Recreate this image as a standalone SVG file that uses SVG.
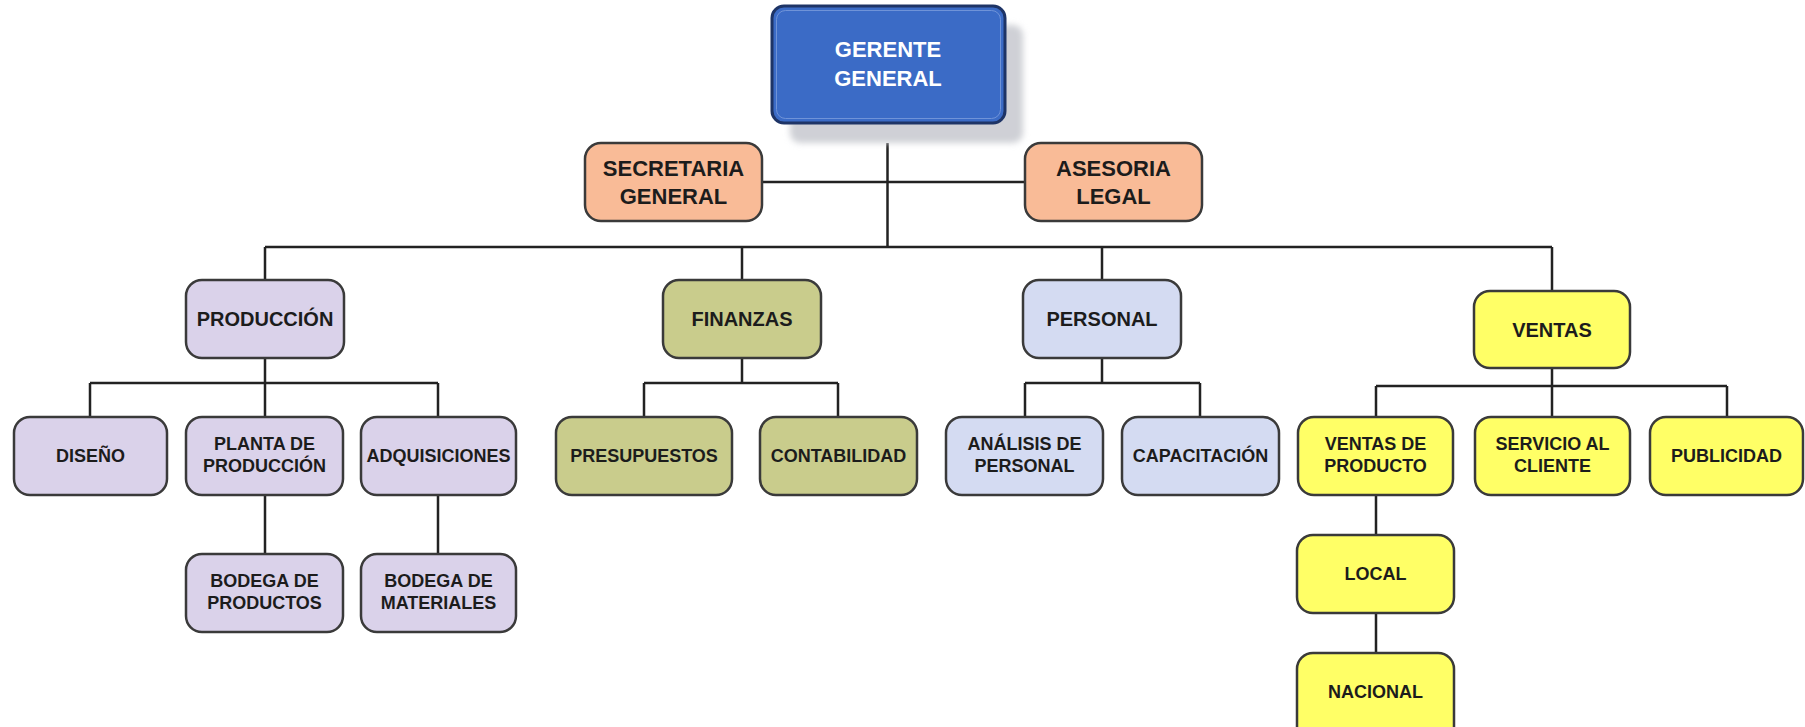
<svg xmlns="http://www.w3.org/2000/svg" width="1805" height="727" viewBox="0 0 1805 727">
  <defs>
    <filter id="soft" x="-20%" y="-20%" width="140%" height="140%">
      <feGaussianBlur stdDeviation="3"/>
    </filter>
  </defs>
  <style>
    .box { stroke: #3a3a3a; stroke-width: 2.5; }
    .prod { fill: #DAD2EA; }
    .fin { fill: #C9CC8C; }
    .pers { fill: #D4DBF2; }
    .vent { fill: #FFFF66; }
    .staff { fill: #F9BB97; }
    .lbl { font-family: "Liberation Sans", Arial, sans-serif; font-weight: bold; fill: #1c1c1c; text-anchor: middle; }
    .s18 { font-size: 18px; }
    .s20 { font-size: 20px; }
    .s22 { font-size: 22px; }
    .conn { stroke: #222; stroke-width: 2.5; fill: none; }
  </style>
  <rect width="1805" height="727" fill="#ffffff"/>

  <!-- connectors -->
  <g id="connectors" class="conn">
    <path d="M887.5 143 V247"/>
    <path d="M762 182 H1025"/>
    <path d="M265 247 H1552"/>
    <path d="M265 247 V280 M742 247 V280 M1102 247 V280 M1552 247 V291"/>
    <!-- produccion -->
    <path d="M265 358 V417 M90 383 H438 M90 383 V417 M438 383 V417"/>
    <path d="M265 495 V554 M438 495 V554"/>
    <!-- finanzas -->
    <path d="M742 358 V383 M644 383 H838 M644 383 V417 M838 383 V417"/>
    <!-- personal -->
    <path d="M1102 358 V383 M1025 383 H1200 M1025 383 V417 M1200 383 V417"/>
    <!-- ventas -->
    <path d="M1552 368 V417 M1376 386 H1727 M1376 386 V417 M1727 386 V417"/>
    <path d="M1376 495 V535 M1376 613 V653"/>
  </g>

  <!-- top -->
  <g id="gerente">
    <rect x="790" y="25" width="233" height="118" rx="10" fill="#cfd0d6" filter="url(#soft)"/>
    <rect x="772" y="6" width="233" height="117" rx="12" fill="#3B6BC6" stroke="#1E3466" stroke-width="3"/>
    <rect x="776.5" y="10.5" width="224" height="108" rx="9" fill="none" stroke="#6f93d8" stroke-width="1"/>
    <text class="lbl s22" x="888" y="57" style="fill:#ffffff">GERENTE</text>
    <text class="lbl s22" x="888" y="86" style="fill:#ffffff">GENERAL</text>
  </g>

  <g id="secretaria">
    <rect class="box staff" x="585" y="143" width="177" height="78" rx="16"/>
    <text class="lbl s22" x="673.5" y="176">SECRETARIA</text>
    <text class="lbl s22" x="673.5" y="204">GENERAL</text>
  </g>
  <g id="asesoria">
    <rect class="box staff" x="1025" y="143" width="177" height="78" rx="16"/>
    <text class="lbl s22" x="1113.5" y="176">ASESORIA</text>
    <text class="lbl s22" x="1113.5" y="204">LEGAL</text>
  </g>

  <!-- departments -->
  <g id="produccion">
    <rect class="box prod" x="186" y="280" width="158" height="78" rx="16"/>
    <text class="lbl s20" x="265" y="326">PRODUCCIÓN</text>
  </g>
  <g id="finanzas">
    <rect class="box fin" x="663" y="280" width="158" height="78" rx="16"/>
    <text class="lbl s20" x="742" y="326">FINANZAS</text>
  </g>
  <g id="personal">
    <rect class="box pers" x="1023" y="280" width="158" height="78" rx="16"/>
    <text class="lbl s20" x="1102" y="326">PERSONAL</text>
  </g>
  <g id="ventas">
    <rect class="box vent" x="1474" y="291" width="156" height="77" rx="16"/>
    <text class="lbl s20" x="1552" y="337">VENTAS</text>
  </g>

  <!-- produccion units -->
  <g id="diseno">
    <rect class="box prod" x="14" y="417" width="153" height="78" rx="16"/>
    <text class="lbl s18" x="90.5" y="462">DISEÑO</text>
  </g>
  <g id="planta">
    <rect class="box prod" x="186" y="417" width="157" height="78" rx="16"/>
    <text class="lbl s18" x="264.5" y="450">PLANTA DE</text>
    <text class="lbl s18" x="264.5" y="472">PRODUCCIÓN</text>
  </g>
  <g id="adquisiciones">
    <rect class="box prod" x="361" y="417" width="155" height="78" rx="16"/>
    <text class="lbl s18" x="438.5" y="462">ADQUISICIONES</text>
  </g>
  <g id="bodega-productos">
    <rect class="box prod" x="186" y="554" width="157" height="78" rx="16"/>
    <text class="lbl s18" x="264.5" y="587">BODEGA DE</text>
    <text class="lbl s18" x="264.5" y="609">PRODUCTOS</text>
  </g>
  <g id="bodega-materiales">
    <rect class="box prod" x="361" y="554" width="155" height="78" rx="16"/>
    <text class="lbl s18" x="438.5" y="587">BODEGA DE</text>
    <text class="lbl s18" x="438.5" y="609">MATERIALES</text>
  </g>

  <!-- finanzas units -->
  <g id="presupuestos">
    <rect class="box fin" x="556" y="417" width="176" height="78" rx="16"/>
    <text class="lbl s18" x="644" y="462">PRESUPUESTOS</text>
  </g>
  <g id="contabilidad">
    <rect class="box fin" x="760" y="417" width="157" height="78" rx="16"/>
    <text class="lbl s18" x="838.5" y="462">CONTABILIDAD</text>
  </g>

  <!-- personal units -->
  <g id="analisis">
    <rect class="box pers" x="946" y="417" width="157" height="78" rx="16"/>
    <text class="lbl s18" x="1024.5" y="450">ANÁLISIS DE</text>
    <text class="lbl s18" x="1024.5" y="472">PERSONAL</text>
  </g>
  <g id="capacitacion">
    <rect class="box pers" x="1122" y="417" width="157" height="78" rx="16"/>
    <text class="lbl s18" x="1200.5" y="462">CAPACITACIÓN</text>
  </g>

  <!-- ventas units -->
  <g id="ventas-producto">
    <rect class="box vent" x="1298" y="417" width="155" height="78" rx="16"/>
    <text class="lbl s18" x="1375.5" y="450">VENTAS DE</text>
    <text class="lbl s18" x="1375.5" y="472">PRODUCTO</text>
  </g>
  <g id="servicio">
    <rect class="box vent" x="1475" y="417" width="155" height="78" rx="16"/>
    <text class="lbl s18" x="1552.5" y="450">SERVICIO AL</text>
    <text class="lbl s18" x="1552.5" y="472">CLIENTE</text>
  </g>
  <g id="publicidad">
    <rect class="box vent" x="1650" y="417" width="153" height="78" rx="16"/>
    <text class="lbl s18" x="1726.5" y="462">PUBLICIDAD</text>
  </g>
  <g id="local">
    <rect class="box vent" x="1297" y="535" width="157" height="78" rx="16"/>
    <text class="lbl s18" x="1375.5" y="580">LOCAL</text>
  </g>
  <g id="nacional">
    <rect class="box vent" x="1297" y="653" width="157" height="90" rx="16"/>
    <text class="lbl s18" x="1375.5" y="698">NACIONAL</text>
  </g>
</svg>
